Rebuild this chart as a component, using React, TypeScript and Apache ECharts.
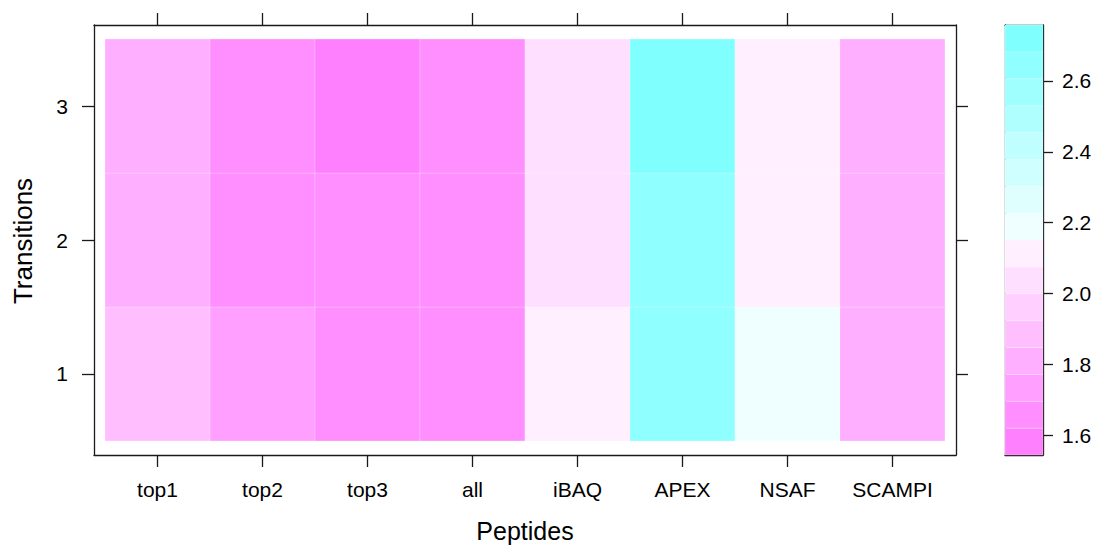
import React, { useEffect, useRef } from "react";
import * as echarts from "echarts";

// Categories
const peptides = ["top1", "top2", "top3", "all", "iBAQ", "APEX", "NSAF", "SCAMPI"];
const transitions = [1, 2, 3];

// Values per peptide method, for transitions 1, 2, 3
const valTop1 = [1.88, 1.81, 1.8];
const valTop2 = [1.73, 1.66, 1.65];
const valTop3 = [1.66, 1.67, 1.544];
const valAll = [1.67, 1.66, 1.66];
const valIBAQ = [2.11, 2.04, 2.03];
const valAPEX = [2.65, 2.64, 2.758];
const valNSAF = [2.19, 2.1, 2.12];
const valSCAMPI = [1.81, 1.8, 1.82];

const columns = [valTop1, valTop2, valTop3, valAll, valIBAQ, valAPEX, valNSAF, valSCAMPI];

// Colour key tick labels
const keyTicks = [1.6, 1.8, 2.0, 2.2, 2.4, 2.6];

// 16 colour regions, low (magenta) to high (cyan)
const regionColors = [
  "#FF80FF", "#FF8FFF", "#FF9FFF", "#FFAFFF", "#FFBFFF", "#FFCFFF", "#FFDFFF", "#FFEFFF",
  "#EFFFFF", "#DFFFFF", "#CFFFFF", "#BFFFFF", "#AFFFFF", "#9FFFFF", "#8FFFFF", "#80FFFF",
];

const FONT = "'Liberation Sans', Helvetica, Arial, sans-serif";

export default function App() {
  const ref = useRef<HTMLDivElement>(null);

  useEffect(() => {
    if (!ref.current) return;
    const chart = echarts.init(ref.current, undefined, { renderer: "svg" });

    const cells: number[][] = [];
    columns.forEach((col, i) => {
      col.forEach((v, j) => cells.push([i + 1, transitions[j], v]));
    });
    const all = cells.map((c) => c[2]);
    const zMin = Math.min(...all);
    const zMax = Math.max(...all);
    const n = regionColors.length;
    const step = (zMax - zMin) / n;
    const breaks = Array.from({ length: n + 1 }, (_, k) => zMin + k * step);
    const pieces = regionColors.map((c, k) =>
      k === n - 1
        ? { gte: breaks[k], lte: zMax + 1e-9, color: c }
        : { gte: breaks[k], lt: breaks[k + 1], color: c }
    );
    const keyData = regionColors.map((_, k) => [breaks[k], breaks[k + 1], k]);

    const pad = 0.105;
    const xMin = 0.5 - pad;
    const xMax = peptides.length + 0.5 + pad;
    const yMin = 0.5 - pad;
    const yMax = transitions.length + 0.5 + pad;
    const xVals = peptides.map((_, i) => i + 1);

    const lineStyle = { color: "#1a1a1a", width: 1.3 };
    const labelStyle = { color: "#000", fontSize: 21, fontFamily: FONT };

    chart.setOption({
      animation: false,
      backgroundColor: "#fff",
      grid: [
        { left: 94, top: 25, width: 862, height: 430 },
        { left: 1005, top: 25, width: 38, height: 430 },
      ],
      xAxis: [
        {
          type: "value", gridIndex: 0, position: "bottom", min: xMin, max: xMax,
          splitLine: { show: false },
          axisLine: { show: true, lineStyle, onZero: false },
          axisTick: { show: true, length: 12, lineStyle, customValues: xVals },
          axisLabel: {
            ...labelStyle, margin: 24, customValues: xVals,
            formatter: (v: number) => peptides[Math.round(v) - 1] ?? "",
          },
        },
        {
          type: "value", gridIndex: 0, position: "top", min: xMin, max: xMax,
          splitLine: { show: false },
          axisLine: { show: true, lineStyle, onZero: false },
          axisTick: { show: true, length: 12, lineStyle, customValues: xVals },
          axisLabel: { show: false },
        },
        {
          type: "value", gridIndex: 1, position: "bottom", min: 0, max: 1,
          splitLine: { show: false },
          axisLine: { show: true, lineStyle, onZero: false },
          axisTick: { show: false }, axisLabel: { show: false },
        },
        {
          type: "value", gridIndex: 1, position: "top", min: 0, max: 1,
          splitLine: { show: false },
          axisLine: { show: true, lineStyle, onZero: false },
          axisTick: { show: false }, axisLabel: { show: false },
        },
      ],
      yAxis: [
        {
          type: "value", gridIndex: 0, position: "left", min: yMin, max: yMax,
          splitLine: { show: false },
          axisLine: { show: true, lineStyle, onZero: false },
          axisTick: { show: true, length: 12, lineStyle, customValues: transitions },
          axisLabel: {
            ...labelStyle, margin: 26, customValues: transitions,
            formatter: (v: number) => String(Math.round(v)),
          },
        },
        {
          type: "value", gridIndex: 0, position: "right", min: yMin, max: yMax,
          splitLine: { show: false },
          axisLine: { show: true, lineStyle, onZero: false },
          axisTick: { show: true, length: 12, lineStyle, customValues: transitions },
          axisLabel: { show: false },
        },
        {
          type: "value", gridIndex: 1, position: "right", min: zMin, max: zMax,
          splitLine: { show: false },
          axisLine: { show: true, lineStyle, onZero: false },
          axisTick: { show: true, length: 10, lineStyle, customValues: keyTicks },
          axisLabel: {
            ...labelStyle, margin: 19, customValues: keyTicks,
            formatter: (v: number) => v.toFixed(1),
          },
        },
        {
          type: "value", gridIndex: 1, position: "left", min: zMin, max: zMax,
          splitLine: { show: false },
          axisLine: { show: true, lineStyle, onZero: false },
          axisTick: { show: false }, axisLabel: { show: false },
        },
      ],
      visualMap: {
        type: "piecewise",
        show: false,
        seriesIndex: 0,
        dimension: 2,
        pieces,
      },
      series: [
        {
          type: "custom",
          xAxisIndex: 0,
          yAxisIndex: 0,
          data: cells,
          encode: { x: 0, y: 1 },
          renderItem: (params: any, api: any) => {
            const x = api.value(0);
            const y = api.value(1);
            const p1 = api.coord([x - 0.5, y + 0.5]);
            const p2 = api.coord([x + 0.5, y - 0.5]);
            return {
              type: "rect",
              shape: { x: p1[0], y: p1[1], width: p2[0] - p1[0], height: p2[1] - p1[1] },
              style: { fill: api.visual("color"), stroke: "rgba(255,255,255,0.35)", lineWidth: 0.6 },
            };
          },
          z: 1,
        },
        {
          type: "custom",
          xAxisIndex: 2,
          yAxisIndex: 2,
          data: keyData,
          encode: { y: [0, 1] },
          renderItem: (params: any, api: any) => {
            const lo = api.value(0);
            const hi = api.value(1);
            const k = api.value(2);
            const p1 = api.coord([0, hi]);
            const p2 = api.coord([1, lo]);
            return {
              type: "rect",
              shape: { x: p1[0], y: p1[1], width: p2[0] - p1[0], height: p2[1] - p1[1] },
              style: { fill: regionColors[k], stroke: "rgba(255,255,255,0.35)", lineWidth: 0.6 },
            };
          },
          z: 1,
        },
      ],
      graphic: [
        {
          type: "text", x: 23, y: 241, rotation: Math.PI / 2,
          style: { text: "Transitions", fontSize: 26, fontFamily: FONT, fill: "#000", align: "center", verticalAlign: "middle" },
        },
        {
          type: "text", x: 525, y: 531,
          style: { text: "Peptides", fontSize: 25, fontFamily: FONT, fill: "#000", align: "center", verticalAlign: "middle" },
        },
      ],
    });

    return () => chart.dispose();
  }, []);

  return <div ref={ref} style={{ width: 1096, height: 545, position: "absolute", left: 0, top: 0 }} />;
}
